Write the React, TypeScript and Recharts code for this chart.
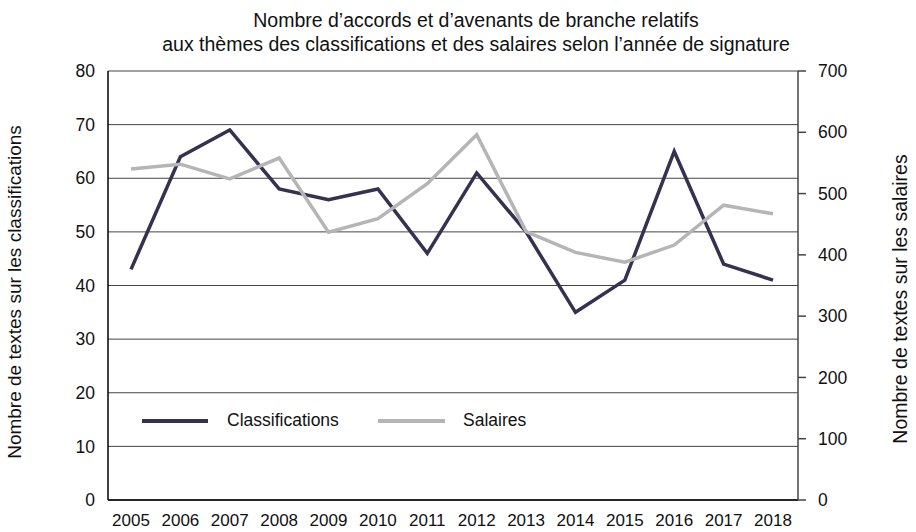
import { LineChart, Line, XAxis, YAxis, CartesianGrid, Legend } from "recharts";

const years = ["2005", "2006", "2007", "2008", "2009", "2010", "2011", "2012", "2013", "2014", "2015", "2016", "2017", "2018"];
const classifications = [43, 64, 69, 58, 56, 58, 46, 61, 50, 35, 41, 65, 44, 41];
const salaires = [540, 548, 524, 558, 437, 459, 516, 596, 438, 404, 388, 416, 481, 467];
const leftTicks = [0, 10, 20, 30, 40, 50, 60, 70, 80];
const rightTicks = [0, 100, 200, 300, 400, 500, 600, 700];

const data = years.map((year, i) => ({
  year,
  classifications: classifications[i],
  salaires: salaires[i],
}));

const FONT = '"Liberation Sans", Arial, sans-serif';
const DARK = "#35314f";
const GREY = "#b5b5b5";

const VerticalLabel = ({ cx, cy, text, size }) => (
  <text
    x={cx}
    y={cy}
    transform={`rotate(-90, ${cx}, ${cy})`}
    textAnchor="middle"
    dominantBaseline="central"
    fontFamily={FONT}
    fontSize={size}
    fill="#111"
  >
    {text}
  </text>
);

const LegendContent = () => (
  <div style={{ position: "relative", height: 0, fontFamily: FONT, fontSize: 17.5, color: "#111" }}>
    <div style={{ position: "absolute", left: 142, top: 419, width: 66, height: 4, background: DARK }} />
    <div style={{ position: "absolute", left: 227, top: 408, lineHeight: "24px", whiteSpace: "nowrap" }}>Classifications</div>
    <div style={{ position: "absolute", left: 378, top: 419, width: 67, height: 4, background: GREY }} />
    <div style={{ position: "absolute", left: 463, top: 408, lineHeight: "24px", whiteSpace: "nowrap" }}>Salaires</div>
  </div>
);

export default function App() {
  return (
    <div style={{ position: "absolute", left: 0, top: 0, width: 916, height: 532, background: "#fff" }}>
      <div
        style={{
          position: "absolute",
          left: 476 - 400,
          top: 8,
          width: 800,
          textAlign: "center",
          fontFamily: FONT,
          fontSize: 19.5,
          lineHeight: "24px",
          color: "#111",
        }}
      >
        Nombre d’accords et d’avenants de branche relatifs
        <br />
        aux thèmes des classifications et des salaires selon l’année de signature
      </div>
      <LineChart width={916} height={532} data={data} margin={{ top: 71, right: 0, bottom: 0, left: 0 }}>
        <CartesianGrid yAxisId="left" vertical={false} stroke="#444" strokeWidth={1} />
        <XAxis
          dataKey="year"
          height={32}
          padding={{ left: 23, right: 25 }}
          tickLine={false}
          axisLine={{ stroke: "#000", strokeWidth: 1.5 }}
          tickSize={8}
          tickMargin={6}
          tick={{ fontFamily: FONT, fontSize: 17, fill: "#111" }}
          interval={0}
        />
        <YAxis
          yAxisId="left"
          width={108}
          domain={[0, 80]}
          ticks={leftTicks}
          tickLine={false}
          axisLine={{ stroke: "#000", strokeWidth: 1.5 }}
          tickSize={8}
          tickMargin={5}
          tick={{ fontFamily: FONT, fontSize: 17.5, fill: "#111" }}
          label={<VerticalLabel cx={14} cy={292} size={19} text="Nombre de textes sur les classifications" />}
        />
        <YAxis
          yAxisId="right"
          orientation="right"
          width={118}
          domain={[0, 700]}
          ticks={rightTicks}
          tickLine={{ stroke: "#444", strokeWidth: 1.5 }}
          axisLine={{ stroke: "#444", strokeWidth: 1.5 }}
          tickSize={8}
          tickMargin={12}
          tick={{ fontFamily: FONT, fontSize: 17.5, fill: "#111", textAnchor: "start" }}
          label={<VerticalLabel cx={900} cy={299} size={19.5} text="Nombre de textes sur les salaires" />}
        />
        <Legend content={<LegendContent />} wrapperStyle={{ left: 0, top: 0, width: 916, height: 0 }} />
        <Line
          yAxisId="left"
          type="linear"
          dataKey="classifications"
          name="Classifications"
          stroke={DARK}
          strokeWidth={3.5}
          dot={false}
          isAnimationActive={false}
        />
        <Line
          yAxisId="right"
          type="linear"
          dataKey="salaires"
          name="Salaires"
          stroke={GREY}
          strokeWidth={3.5}
          dot={false}
          isAnimationActive={false}
        />
      </LineChart>
    </div>
  );
}
